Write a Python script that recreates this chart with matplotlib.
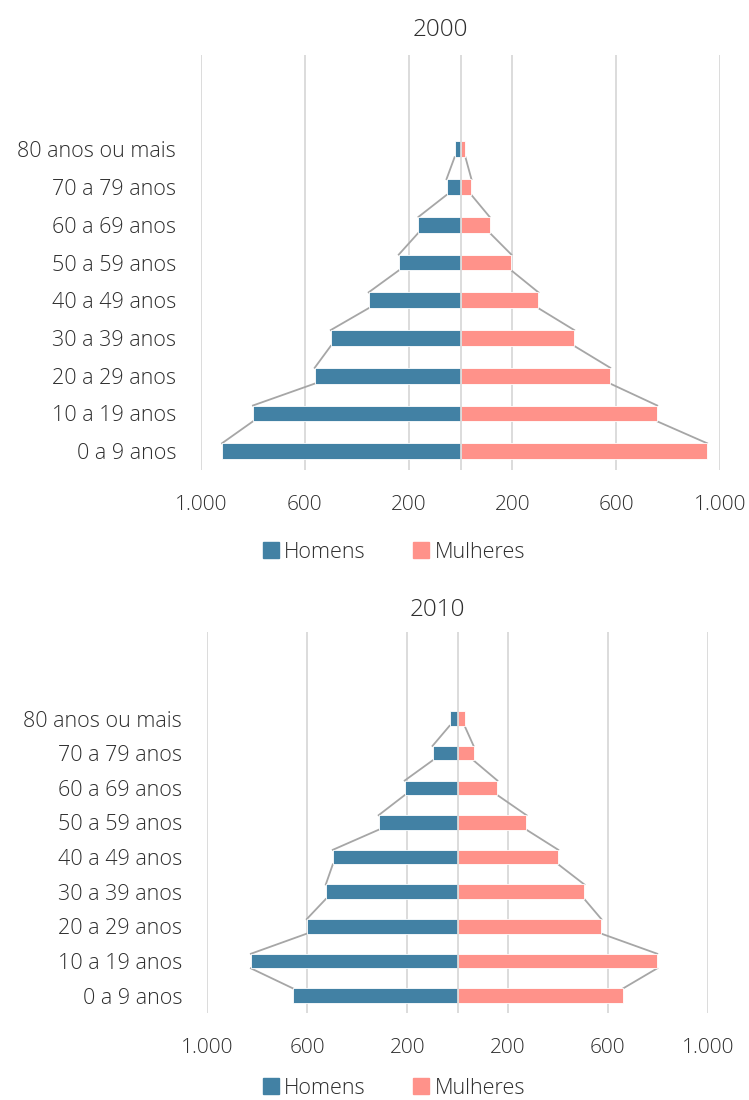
"""
Piramide etaria 2000 e 2010, barras horizontais homens x mulheres.
"""
import matplotlib
matplotlib.use('Agg')
import matplotlib.pyplot as plt
from matplotlib.patches import Patch

faixas = ['0 a 9 anos', '10 a 19 anos', '20 a 29 anos', '30 a 39 anos',
          '40 a 49 anos', '50 a 59 anos', '60 a 69 anos', '70 a 79 anos',
          '80 anos ou mais']
homens_2000 = [919, 800, 562, 500, 354, 238, 162, 54, 23]
mulheres_2000 = [950, 758, 577, 438, 300, 196, 112, 42, 19]
homens_2010 = [657, 825, 602, 526, 498, 315, 211, 100, 32]
mulheres_2010 = [661, 797, 574, 506, 402, 275, 159, 64, 28]
ticks = [-1000, -600, -200, 200, 600, 1000]
tick_labels = ['1.000', '600', '200', '200', '600', '1.000']

cor_h = '#4281A4'
cor_m = '#FF928A'
cor_txt = '#2E2E2E'
fonte = ['Open Sans', 'DejaVu Sans']
plt.rcParams['font.family'] = fonte
plt.rcParams['font.weight'] = 'light'

fig = plt.figure(figsize=(7.49, 11), dpi=100)


def piramide(rect, homens, mulheres, titulo, titulo_xy, leg_x, leg_y):
    ax = fig.add_axes(rect)
    y = list(range(len(faixas)))
    h = 0.42
    ax.barh(y, [-v for v in homens], height=h, color=cor_h,
            edgecolor='white', linewidth=0.6, zorder=3)
    ax.barh(y, mulheres, height=h, color=cor_m,
            edgecolor='white', linewidth=0.6, zorder=3)
    # linhas de serie ligando as barras
    for i in range(len(y) - 1):
        ax.plot([-homens[i], -homens[i + 1]], [i + h / 2, i + 1 - h / 2],
                color='#A6A6A6', lw=1.3, zorder=2)
        ax.plot([mulheres[i], mulheres[i + 1]], [i + h / 2, i + 1 - h / 2],
                color='#A6A6A6', lw=1.3, zorder=2)
    ax.set_xlim(-1000, 1000)
    ax.set_ylim(-0.5, 10.5)
    ax.set_xticks(ticks)
    ax.set_xticklabels(tick_labels)
    ax.set_yticks(y)
    ax.set_yticklabels(faixas)
    for t in ticks:
        ax.axvline(t, color='#D9D9D9', lw=1.3, zorder=1)
    ax.axvline(0, color='#D9D9D9', lw=1.3, zorder=4)
    for s in ax.spines.values():
        s.set_visible(False)
    ax.tick_params(axis='x', length=0, pad=18, labelsize=15,
                   labelcolor=cor_txt)
    ax.tick_params(axis='y', length=0, pad=18, labelsize=15.5,
                   labelcolor=cor_txt)
    fig.text(titulo_xy[0], titulo_xy[1], titulo, ha='center', va='center',
             fontsize=17.5, color=cor_txt)
    handles = [Patch(color=cor_h, label='Homens'),
               Patch(color=cor_m, label='Mulheres')]
    fig.legend(handles=handles, loc='center', ncol=2, frameon=False,
               bbox_to_anchor=(leg_x, leg_y), fontsize=15.5,
               handlelength=0.75, handleheight=0.75, handletextpad=0.25,
               columnspacing=2.2, labelcolor=cor_txt)
    return ax


piramide([0.2684, 0.5727, 0.6929, 0.3773], homens_2000, mulheres_2000,
         '2000', (440 / 749, 1 - 30 / 1100), 394 / 749, 1 - 552 / 1100)
piramide([0.2764, 0.0791, 0.669, 0.3464], homens_2010, mulheres_2010,
         '2010', (437 / 749, 1 - 610 / 1100), 394 / 749, 1 - 1088 / 1100)

plt.savefig('out.png', dpi=100)
